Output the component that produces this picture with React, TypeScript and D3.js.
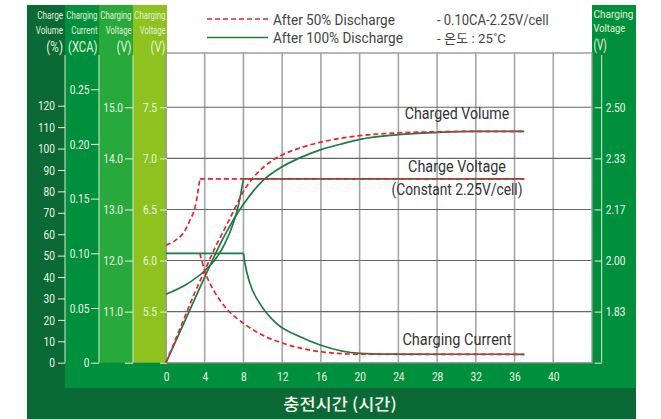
import { useEffect, useRef } from 'react';
import * as d3 from 'd3';

// axis ticks
const hourTicks = [0, 4, 8, 12, 16, 20, 24, 28, 32, 36, 40];
const volumeTicks = [0, 10, 20, 30, 40, 50, 60, 70, 80, 90, 100, 110, 120];
const currentTicks = [0, 0.05, 0.1, 0.15, 0.2, 0.25];
const volt12Ticks = [10, 11, 12, 13, 14, 15];
const volt6Ticks = [5, 5.5, 6, 6.5, 7, 7.5];
const cellTicks = [10 / 6, 11 / 6, 2, 13 / 6, 14 / 6, 2.5];
const cellLabels = ['', '1.83', '2.00', '2.17', '2.33', '2.50'];

// after 100% discharge (green)
const vol100Hours = [0, 2, 4, 6, 8, 10, 12, 14, 16, 18, 20, 24, 28, 32, 37];
const vol100 = [0, 20, 40, 59, 74, 85, 91.5, 96, 99.5, 102, 104.3, 106.5, 107.5, 108, 108];
const volt100Hours = [0, 2, 4, 5, 6, 7, 7.5, 8];
const volt100 = [5.67, 5.76, 5.9, 6.0, 6.15, 6.38, 6.55, 6.8];
const cur100Hours = [8, 8.15, 8.65, 9.7, 11.4, 13.8, 16, 20, 24, 37];
const cur100 = [0.1, 0.091, 0.073, 0.054, 0.036, 0.024, 0.016, 0.0086, 0.0078, 0.0077];

// after 50% discharge (red)
const vol50Hours = [0, 1, 2, 3, 4, 5, 6, 7, 8, 10, 12, 14, 16, 20, 24, 28, 32, 37];
const vol50 = [0, 11, 22, 33, 43, 53, 62, 71, 80, 91, 97, 100.5, 103, 106, 107.3, 107.8, 108, 108];
const volt50Hours = [0, 1, 2, 2.5, 3, 3.5];
const volt50 = [6.15, 6.2, 6.3, 6.4, 6.52, 6.8];
const cur50Hours = [3.5, 4, 5, 6, 8, 10, 12, 16, 20, 24, 37];
const cur50 = [0.1, 0.084, 0.065, 0.052, 0.036, 0.025, 0.018, 0.01, 0.0078, 0.0077, 0.0077];

const constVolt = 6.8;
const constCurrent = 0.1;
const endHour = 37;

const FONT = "Roboto, 'Liberation Sans', sans-serif";
const KR = "'Noto Sans CJK KR', Roboto, sans-serif";
const MIXED = "Roboto, 'Noto Sans CJK KR', sans-serif";
const RED = '#e8232c';
const GREEN = '#1d7a45';
const SQUEEZE = 0.78;

type Sel = d3.Selection<any, unknown, null, undefined>;

// text squeezed horizontally to a measured width (condensed look)
const label = (
  parent: Sel,
  x: number,
  y: number,
  str: string,
  size: number,
  width: number,
  fill: string,
  anchor = 'start',
  family = FONT
) => {
  const t = parent
    .append('text')
    .attr('text-anchor', anchor)
    .attr('fill', fill)
    .style('font-family', family)
    .style('font-size', `${size}px`)
    .text(str);
  const natural = (t.node() as SVGTextElement).getComputedTextLength() || width;
  t.attr('transform', `translate(${x},${y}) scale(${width / natural},1)`);
  return t;
};

const App = () => {
  const svgRef = useRef<SVGSVGElement>(null);

  useEffect(() => {
    if (!svgRef.current) return;
    const svg = d3.select(svgRef.current);
    svg.selectAll('*').remove();

    const plotTop = 53;
    const plotBottom = 362.7;
    const x = d3.scaleLinear().domain([0, 44]).range([166, 592]);
    const yVol = d3.scaleLinear().domain([0, 120]).range([plotBottom, 105.7]);
    const yCur = d3.scaleLinear().domain([0, 0.25]).range([plotBottom, 89.2]);
    const yV12 = d3.scaleLinear().domain([10, 15]).range([plotBottom, 107.3]);
    const yV6 = d3.scaleLinear().domain([5, 7.5]).range([plotBottom, 107.3]);
    const yCell = d3.scaleLinear().domain([10 / 6, 2.5]).range([plotBottom, 107.3]);

    // background bands
    const bands = [
      { x: 27, y: 5, w: 38, h: 414, c: '#0a6934' },
      { x: 65, y: 5, w: 34, h: 383, c: '#00903d' },
      { x: 99, y: 5, w: 34, h: 358, c: '#27a93b' },
      { x: 133, y: 5, w: 34, h: 358, c: '#8dc21f' },
      { x: 592, y: 5, w: 44, h: 358, c: '#00903d' },
      { x: 65, y: plotBottom, w: 571, h: 26, c: '#00903d' },
      { x: 27, y: 388, w: 609, h: 31, c: '#0a6934' },
    ];
    svg
      .selectAll('rect.band')
      .data(bands)
      .join('rect')
      .attr('x', (d) => d.x)
      .attr('y', (d) => d.y)
      .attr('width', (d) => d.w)
      .attr('height', (d) => d.h)
      .attr('fill', (d) => d.c);

    // grid
    const grid = svg.append('g');
    grid
      .selectAll('line.v')
      .data(hourTicks.slice(1))
      .join('line')
      .attr('x1', (d) => x(d))
      .attr('x2', (d) => x(d))
      .attr('y1', plotTop)
      .attr('y2', plotBottom)
      .attr('stroke', '#a6a6a6')
      .attr('stroke-width', 1.6);
    grid
      .selectAll('line.h')
      .data(volt6Ticks.slice(1))
      .join('line')
      .attr('x1', x(0))
      .attr('x2', x(44))
      .attr('y1', (d) => yV6(d))
      .attr('y2', (d) => yV6(d))
      .attr('stroke', '#666')
      .attr('stroke-width', 1.1);
    grid
      .append('rect')
      .attr('x', x(0))
      .attr('y', plotTop)
      .attr('width', x(44) - x(0))
      .attr('height', plotBottom - plotTop)
      .attr('fill', 'none')
      .attr('stroke', '#999')
      .attr('stroke-width', 1.4);

    // axes
    const styleAxis = (g: Sel) => {
      g.select('.domain').remove();
      g.selectAll('.tick line').attr('stroke', '#e6f2dc').attr('stroke-width', 1);
      g.selectAll<SVGTextElement, unknown>('.tick text')
        .attr('fill', '#eef6e6')
        .style('font-family', FONT)
        .style('font-size', '13px')
        .attr('x', function () {
          return +(d3.select(this).attr('x') || 0) / SQUEEZE;
        })
        .attr('transform', `scale(${SQUEEZE},1)`);
    };
    const axisLine = (xp: number) =>
      svg
        .append('line')
        .attr('x1', xp)
        .attr('x2', xp)
        .attr('y1', 55)
        .attr('y2', plotBottom)
        .attr('stroke', '#d8ead0')
        .attr('stroke-width', 1);

    [65, 99, 133, 601.7].forEach(axisLine);

    svg
      .append('g')
      .attr('transform', 'translate(65,0)')
      .call(d3.axisLeft(yVol).tickValues(volumeTicks).tickSize(7).tickSizeOuter(0).tickPadding(3).tickFormat((d) => `${d}`))
      .call(styleAxis);
    svg
      .append('g')
      .attr('transform', 'translate(99,0)')
      .call(
        d3
          .axisLeft(yCur)
          .tickValues(currentTicks)
          .tickSize(8)
          .tickSizeOuter(0)
          .tickPadding(1.5)
          .tickFormat((d) => (+d === 0 ? '0' : d3.format('.2f')(+d)))
      )
      .call(styleAxis);
    svg
      .append('g')
      .attr('transform', 'translate(133,0)')
      .call(
        d3
          .axisLeft(yV12)
          .tickValues(volt12Ticks)
          .tickSize(8)
          .tickSizeOuter(0)
          .tickPadding(2)
          .tickFormat((d) => (+d === 10 ? '' : d3.format('.1f')(+d)))
      )
      .call(styleAxis);
    svg
      .append('g')
      .attr('transform', 'translate(167,0)')
      .call(
        d3
          .axisLeft(yV6)
          .tickValues(volt6Ticks)
          .tickSize(7)
          .tickSizeOuter(0)
          .tickPadding(3)
          .tickFormat((d) => (+d === 5 ? '' : d3.format('.1f')(+d)))
      )
      .call(styleAxis);
    svg
      .append('g')
      .attr('transform', 'translate(601.7,0)')
      .call(
        d3
          .axisRight(yCell)
          .tickValues(cellTicks)
          .tickSize(-7)
          .tickSizeOuter(0)
          .tickPadding(4)
          .tickFormat((_d, i) => cellLabels[i])
      )
      .call(styleAxis);
    svg
      .append('g')
      .attr('transform', `translate(0,${plotBottom})`)
      .call(d3.axisBottom(x).tickValues(hourTicks).tickSize(0).tickPadding(9))
      .call(styleAxis);

    // column titles
    const titleFill = '#e4f1d9';
    const titles = [
      { x: 63, lines: ['Charge', 'Volume', '(%)'], w: [25.7, 27.3, 16.7] },
      { x: 97.5, lines: ['Charging', 'Current', '(XCA)'], w: [31.2, 26.3, 29.5] },
      { x: 131.5, lines: ['Charging', 'Voltage', '(V)'], w: [31.2, 25.7, 15] },
      { x: 165.5, lines: ['Charging', 'Voltage', '(V)'], w: [31.2, 25.7, 15] },
    ];
    titles.forEach((t) => {
      t.lines.forEach((l, i) => {
        label(svg, t.x, [19.3, 34, 52][i], l, i === 2 ? 15 : 11.8, t.w[i], titleFill, 'end');
      });
    });
    const rightTitle = ['Charging', 'Voltage', '(V)'];
    const rightW = [40, 31.7, 13.3];
    rightTitle.forEach((l, i) => {
      label(svg, 593.5, [18, 32, 50][i], l, i === 2 ? 14 : 11.8, rightW[i], titleFill);
    });

    // x title
    label(svg, 340, 410, '충전시간 (시간)', 16.5, 113, '#f2f8ee', 'middle', KR).style('font-weight', 500);

    // curves
    const lines = svg.append('g').attr('fill', 'none').attr('stroke-width', 1.7);
    const smooth = (hours: number[], vals: number[], y: d3.ScaleLinear<number, number>) =>
      d3
        .line<number>()
        .x((_d, i) => x(hours[i]))
        .y((d) => y(d))
        .curve(d3.curveMonotoneX)(vals);
    const straight = (h0: number, h1: number, v: number, y: d3.ScaleLinear<number, number>) =>
      d3.line()([
        [x(h0), y(v)],
        [x(h1), y(v)],
      ]);

    const greenPaths = [
      smooth(vol100Hours, vol100, yVol),
      smooth(volt100Hours, volt100, yV6),
      straight(8, endHour, constVolt, yV6),
      straight(0, 8, constCurrent, yCur),
      smooth(cur100Hours, cur100, yCur),
    ];
    const redPaths = [
      smooth(vol50Hours, vol50, yVol),
      smooth(volt50Hours, volt50, yV6),
      straight(3.5, endHour, constVolt, yV6),
      smooth(cur50Hours, cur50, yCur),
    ];
    greenPaths.forEach((p) => lines.append('path').attr('d', p).attr('stroke', GREEN));
    redPaths.forEach((p) =>
      lines.append('path').attr('d', p).attr('stroke', RED).attr('stroke-dasharray', '5,3')
    );

    // annotations
    const notes = [
      { t: 'Charged Volume', y: 119, w: 104.7 },
      { t: 'Charge Voltage', y: 172, w: 98 },
      { t: '(Constant 2.25V/cell)', y: 195, w: 131 },
      { t: 'Charging Current', y: 345, w: 109.3 },
    ];
    notes.forEach((n) => label(svg, 457, n.y, n.t, 16.5, n.w, '#333', 'middle'));

    // legend
    const legend = svg.append('g');
    legend
      .append('line')
      .attr('x1', 207)
      .attr('x2', 268)
      .attr('y1', 19)
      .attr('y2', 19)
      .attr('stroke', RED)
      .attr('stroke-width', 1.6)
      .attr('stroke-dasharray', '5,3');
    legend
      .append('line')
      .attr('x1', 207)
      .attr('x2', 268)
      .attr('y1', 37.5)
      .attr('y2', 37.5)
      .attr('stroke', GREEN)
      .attr('stroke-width', 1.6);
    const legendTexts = [
      { x: 273, y: 24.5, t: 'After 50% Discharge', w: 122, s: 15 },
      { x: 273, y: 43, t: 'After 100% Discharge', w: 130, s: 15 },
      { x: 437, y: 24.5, t: '- 0.10CA-2.25V/cell', w: 111.7, s: 15 },
      { x: 437, y: 43, t: '- 온도 : 25˚C', w: 69, s: 13 },
    ];
    legendTexts.forEach((l) => label(legend, l.x, l.y, l.t, l.s, l.w, '#444', 'start', MIXED));
  }, []);

  return (
    <svg
      ref={svgRef}
      width={661}
      height={419}
      style={{ position: 'absolute', left: 0, top: 0, background: '#fff' }}
    />
  );
};

export default App;
